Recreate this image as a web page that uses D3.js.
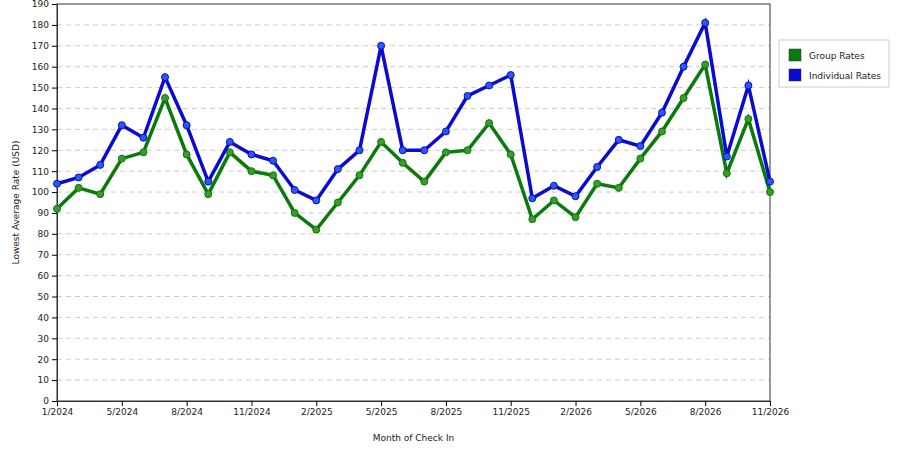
<!DOCTYPE html>
<html>
<head>
<meta charset="utf-8">
<script src="https://cdn.jsdelivr.net/npm/d3@7"></script>
<style>
body { margin: 0; background: #fff; }
text { font-family: "DejaVu Sans", sans-serif; font-size: 9px; fill: #222; }
</style>
</head>
<body>
<div id="chart"></div>
<script>
// Data
const tickLabels = ["1/2024", "5/2024", "8/2024", "11/2024", "2/2025", "5/2025", "8/2025", "11/2025", "2/2026", "5/2026", "8/2026", "11/2026"];
const groupRates = [92, 102, 99, 116, 119, 145, 118, 99, 119, 110, 108, 90, 82, 95, 108, 124, 114, 105, 119, 120, 133, 118, 87, 96, 88, 104, 102, 116, 129, 145, 161, 109, 135, 100];
const individualRates = [104, 107, 113, 132, 126, 155, 132, 105, 124, 118, 115, 101, 96, 111, 120, 170, 120, 120, 129, 146, 151, 156, 97, 103, 98, 112, 125, 122, 138, 160, 181, 117, 151, 105];
const seriesNames = ["Group Rates", "Individual Rates"];
const seriesColors = ["#0a7a0a", "#0a0ad0"];

const margin = { top: 4, right: 130, bottom: 49, left: 57 };
const width = 900 - margin.left - margin.right;
const height = 450 - margin.top - margin.bottom;

const svg = d3.select("#chart")
    .append("svg")
    .attr("width", 900)
    .attr("height", 450)
    .append("g")
    .attr("transform", `translate(${margin.left},${margin.top})`);

const x = d3.scaleLinear()
    .domain([0, groupRates.length - 1])
    .range([0, width]);

const y = d3.scaleLinear()
    .domain([0, 190])
    .range([height, 0]);

// Gridlines
svg.append("g")
    .selectAll("line")
    .data(d3.range(10, 190, 10))
    .enter()
    .append("line")
    .attr("x1", 0)
    .attr("x2", width)
    .attr("y1", d => y(d))
    .attr("y2", d => y(d))
    .attr("stroke", "#ccc")
    .attr("stroke-dasharray", "5,4");

// Frame
svg.append("rect")
    .attr("width", width)
    .attr("height", height)
    .attr("fill", "none")
    .attr("stroke", "#333");

// Axes
svg.append("g")
    .attr("transform", `translate(0,${height})`)
    .call(d3.axisBottom(x)
        .tickValues(d3.range(0, groupRates.length, 3))
        .tickFormat((d, i) => tickLabels[i])
        .tickSize(5)
        .tickSizeOuter(0))
    .call(g => g.select(".domain").attr("stroke", "#333"));

svg.append("g")
    .call(d3.axisLeft(y).tickValues(d3.range(0, 200, 10)).tickSize(5).tickSizeOuter(0))
    .call(g => g.select(".domain").attr("stroke", "#333"));

svg.selectAll(".tick text").style("font-size", "9px");

// Axis titles
svg.append("text")
    .attr("x", width / 2)
    .attr("y", height + 40)
    .attr("text-anchor", "middle")
    .text("Month of Check In");

svg.append("text")
    .attr("transform", `translate(${-38},${height / 2}) rotate(-90)`)
    .attr("text-anchor", "middle")
    .text("Lowest Average Rate (USD)");

// Lines and points
const line = d3.line()
    .x((d, i) => x(i))
    .y(d => y(d));

[groupRates, individualRates].forEach(function (values, k) {
    svg.append("path")
        .datum(values)
        .attr("fill", "none")
        .attr("stroke", seriesColors[k])
        .attr("stroke-width", 3.5)
        .attr("d", line);

    svg.append("g")
        .selectAll("circle")
        .data(values)
        .enter()
        .append("circle")
        .attr("cx", (d, i) => x(i))
        .attr("cy", d => y(d))
        .attr("r", 3.5)
        .attr("fill", k === 0 ? "#3a9a2a" : "#2a5ae8")
        .attr("stroke", seriesColors[k])
        .attr("stroke-width", 1);
});

// Legend
const legend = svg.append("g")
    .attr("transform", `translate(${width + 9},36)`);

legend.append("rect")
    .attr("width", 110)
    .attr("height", 47)
    .attr("fill", "#fff")
    .attr("stroke", "#ccc");

seriesNames.forEach(function (name, k) {
    legend.append("rect")
        .attr("x", 10)
        .attr("y", 9 + k * 20)
        .attr("width", 12)
        .attr("height", 12)
        .attr("fill", seriesColors[k])
        .attr("stroke", "#333")
        .attr("stroke-width", 0.5);
    legend.append("text")
        .attr("x", 30)
        .attr("y", 19 + k * 20)
        .text(name);
});
</script>
</body>
</html>
